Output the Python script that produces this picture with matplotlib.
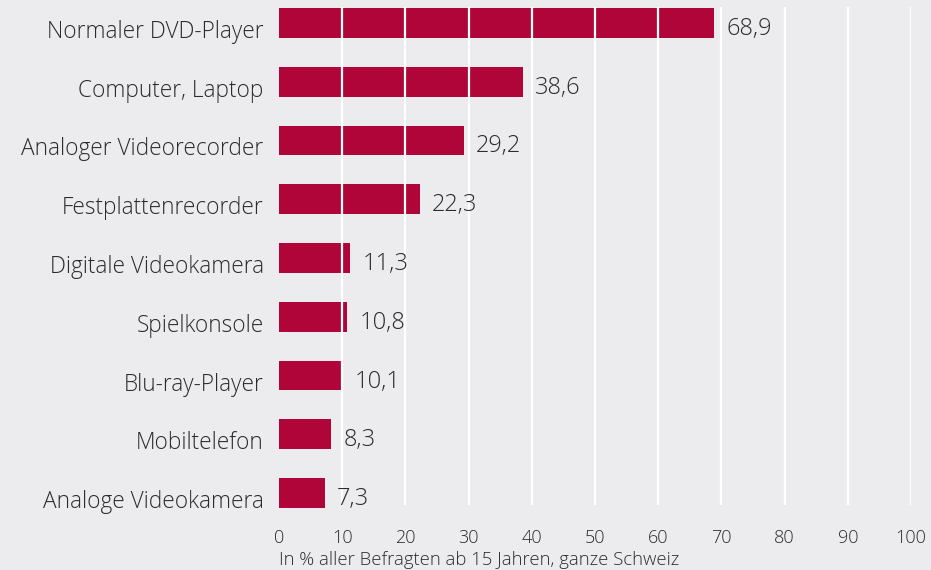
import matplotlib.pyplot as plt
import matplotlib.transforms as mtransforms

# Geräte zum Abspielen von Videos, Anteile in %
geraete = ["Normaler DVD-Player", "Computer, Laptop", "Analoger Videorecorder",
           "Festplattenrecorder", "Digitale Videokamera", "Spielkonsole",
           "Blu-ray-Player", "Mobiltelefon", "Analoge Videokamera"]
anteile = [68.9, 38.6, 29.2, 22.3, 11.3, 10.8, 10.1, 8.3, 7.3]
ticks = [0, 10, 20, 30, 40, 50, 60, 70, 80, 90, 100]
fussnote = "In % aller Befragten ab 15 Jahren, ganze Schweiz"

bg = "#ececee"
rot = "#b00538"
txt = "#2b2b2b"

plt.rcParams['font.family'] = ['Open Sans', 'DejaVu Sans']
plt.rcParams['font.weight'] = 300

fig = plt.figure(figsize=(9.31, 5.70), dpi=100, facecolor=bg)
ax = fig.add_axes([279 / 931, 1 - 505 / 570, (911 - 279) / 931, (505 - 7) / 570])
ax.set_facecolor(bg)

pos = list(range(len(geraete)))
ax.barh(pos, anteile, height=0.51, color=rot, zorder=2, clip_on=False)

# weisse Gitterlinien liegen über den Balken
ax.vlines(ticks[1:], -0.272, 8.204, colors="white", lw=1.6, zorder=3)

for y, v in zip(pos, anteile):
    ax.annotate(f"{v:.1f}".replace(".", ","), (v, y), xytext=(12, -6),
                textcoords="offset pixels", ha="left", va="center",
                fontsize=17, color=txt, zorder=4, annotation_clip=False)

ax.set_xlim(0, 100)
ax.set_ylim(8.204, -0.272)
ax.set_yticks(pos, geraete, fontsize=16.3, color=txt)
ax.set_xticks(ticks, [str(t) for t in ticks], fontsize=13, color=txt)
ax.tick_params(axis="y", length=0, pad=11)
ax.tick_params(axis="x", length=0, pad=17)
for s in ax.spines.values():
    s.set_visible(False)

# Beschriftungen etwas tiefer setzen
shift = mtransforms.ScaledTranslation(0, -6 / 100, fig.dpi_scale_trans)
for lab in ax.get_yticklabels():
    lab.set_transform(lab.get_transform() + shift)

fig.text(279 / 931, 1 - 560 / 570, fussnote, fontsize=13.3, color=txt,
         ha="left", va="center")

fig.savefig("out.png", dpi=100, facecolor=bg)
